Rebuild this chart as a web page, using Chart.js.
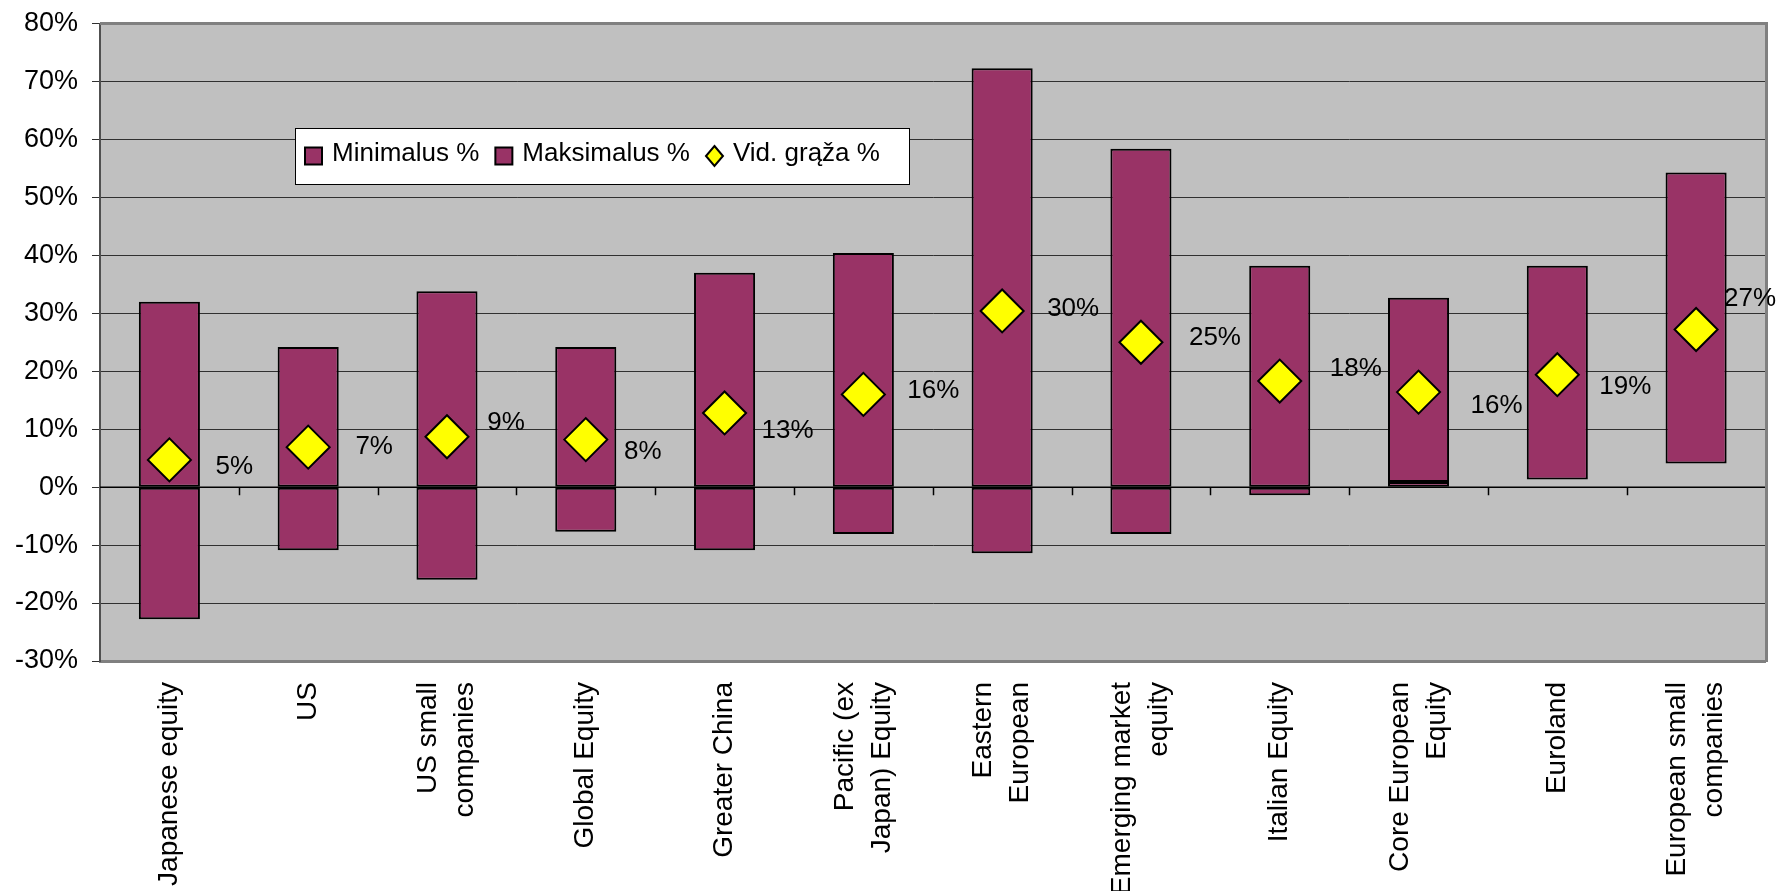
<!DOCTYPE html>
<html>
<head>
<meta charset="utf-8">
<script src="https://cdn.jsdelivr.net/npm/chart.js@4"></script>
<style>
  html, body { margin: 0; padding: 0; background: #fff; }
  #wrap { width: 1789px; height: 891px; }
</style>
</head>
<body>
<div id="wrap"><canvas id="myChart"></canvas></div>
<script>
const categorias = [
  ["Japanese equity"], ["US"], ["US small", "companies"], ["Global Equity"], ["Greater China"],
  ["Pacific (ex", "Japan) Equity"], ["Eastern", "European"], ["Emerging market", "equity"],
  ["Italian Equity"], ["Core European", "Equity"], ["Euroland"], ["European small", "companies"]
];

// stulpeliu dalys (%), [nuo, iki]
const minimalus = [[-22.8, 0], [-10.9, 0], [-16.0, 0], [-7.7, 0], [-10.9, 0], [-8.1, 0],
  [-11.4, 0], [-8.1, 0], [-1.4, 0], [0, 0.9], null, null];
const maksimalus = [[0, 32.0], [0, 24.2], [0, 33.8], [0, 24.2], [0, 37.0], [0, 40.4],
  [0, 72.3], [0, 58.4], [0, 38.2], [0.9, 32.7], [1.3, 38.2], [4.1, 54.3]];
const vidGraza = [4.7, 6.9, 8.7, 8.2, 12.8, 16.0, 30.4, 25.0, 18.3, 16.4, 19.4, 27.2];

const yMin = -30;
const yMax = 80;
const yStep = 10;

// etikeciu poslinkis nuo rombo (px)
const etiketeDx = [65, 66, 59, 57, 63, 70, 71, 74, 76, 78, 68, 54];
const etiketeDy = [7, 0, -14, 12, 18, -4, -2, -4, -12, 14, 12, -31];

const FONT = "'Liberation Sans', Arial, sans-serif";
const spalvaStulp = "#993366";

const fonas = {
  id: "fonas",
  beforeDraw(chart) {
    const { ctx, chartArea: a } = chart;
    ctx.save();
    ctx.fillStyle = "#C0C0C0";
    ctx.fillRect(a.left, a.top, a.right - a.left, a.bottom - a.top);
    ctx.restore();
  },
  beforeDatasetsDraw(chart) {
    const { ctx, chartArea: a, scales } = chart;
    const y0 = scales.y.getPixelForValue(0);
    const n = categorias.length;
    const w = (a.right - a.left) / n;
    ctx.save();
    ctx.strokeStyle = "#000";
    ctx.lineWidth = 1.5;
    ctx.beginPath();
    ctx.moveTo(a.left, y0);
    ctx.lineTo(a.right, y0);
    for (let k = 1; k < n; k++) {
      const x = Math.round(a.left + k * w) + 0.5;
      ctx.moveTo(x, y0);
      ctx.lineTo(x, y0 + 8);
    }
    ctx.stroke();
    ctx.restore();
  },
  afterDatasetsDraw(chart) {
    const { ctx, chartArea: a } = chart;
    // desinis ir virsutinis remelis
    ctx.save();
    ctx.strokeStyle = "#808080";
    ctx.lineWidth = 3;
    ctx.beginPath();
    ctx.moveTo(a.left, a.top);
    ctx.lineTo(a.right + 1, a.top);
    ctx.lineTo(a.right + 1, a.bottom + 1);
    ctx.stroke();

    // duomenu etiketes
    const meta = chart.getDatasetMeta(2);
    ctx.fillStyle = "#000";
    ctx.font = "26px " + FONT;
    ctx.textAlign = "center";
    ctx.textBaseline = "middle";
    meta.data.forEach((p, i) => {
      ctx.fillText(Math.round(vidGraza[i]) + "%", p.x + etiketeDx[i], p.y + etiketeDy[i]);
    });
    ctx.restore();
  },
  afterDraw(chart) {
    const { ctx, chartArea: a, scales } = chart;
    // kategoriju pavadinimai
    ctx.save();
    ctx.fillStyle = "#000";
    ctx.font = "28px " + FONT;
    ctx.textAlign = "right";
    ctx.textBaseline = "middle";
    const lh = 37;
    categorias.forEach((lines, i) => {
      const cx = scales.x.getPixelForValue(i);
      lines.forEach((t, j) => {
        const lx = cx + (j - (lines.length - 1) / 2) * lh;
        ctx.save();
        ctx.translate(lx, a.bottom + 21);
        ctx.rotate(-Math.PI / 2);
        ctx.fillText(t, 0, 0);
        ctx.restore();
      });
    });
    ctx.restore();

    // legenda
    const bx = 295, by = 128, bw = 614, bh = 56;
    ctx.save();
    ctx.fillStyle = "#fff";
    ctx.fillRect(bx, by, bw, bh);
    ctx.strokeStyle = "#000";
    ctx.lineWidth = 1;
    ctx.strokeRect(bx + 0.5, by + 0.5, bw, bh);
    ctx.font = "26px " + FONT;
    ctx.textBaseline = "middle";
    ctx.textAlign = "left";
    const cy = by + bh / 2;
    let x = bx + 10;
    chart.data.datasets.forEach((ds) => {
      ctx.lineWidth = 2;
      ctx.strokeStyle = "#000";
      if (ds.type === "line") {
        ctx.fillStyle = ds.backgroundColor;
        ctx.beginPath();
        ctx.moveTo(x + 8.5, cy - 10);
        ctx.lineTo(x + 17, cy);
        ctx.lineTo(x + 8.5, cy + 10);
        ctx.lineTo(x, cy);
        ctx.closePath();
        ctx.fill();
        ctx.stroke();
      } else {
        ctx.fillStyle = ds.backgroundColor;
        ctx.fillRect(x, cy - 8.5, 17, 17);
        ctx.strokeRect(x, cy - 8.5, 17, 17);
      }
      ctx.fillStyle = "#000";
      ctx.fillText(ds.label, x + 27, cy - 2);
      x += 27 + ctx.measureText(ds.label).width + 16;
    });
    ctx.restore();
  }
};

const config = {
  type: "bar",
  data: {
    labels: categorias.map((c) => c.join(" ")),
    datasets: [
      {
        label: "Minimalus %",
        data: minimalus,
        backgroundColor: spalvaStulp,
        borderColor: "#000",
        borderWidth: 2,
        borderSkipped: false,
        grouped: false,
        barPercentage: 0.44,
        categoryPercentage: 1,
        order: 2
      },
      {
        label: "Maksimalus %",
        data: maksimalus,
        backgroundColor: spalvaStulp,
        borderColor: "#000",
        borderWidth: 2,
        borderSkipped: false,
        grouped: false,
        barPercentage: 0.44,
        categoryPercentage: 1,
        order: 1
      },
      {
        type: "line",
        label: "Vid. grąža %",
        data: vidGraza,
        showLine: false,
        pointStyle: "rectRot",
        pointRadius: 21.5,
        pointBackgroundColor: "#FFFF00",
        backgroundColor: "#FFFF00",
        pointBorderColor: "#000",
        pointBorderWidth: 2,
        order: 0
      }
    ]
  },
  options: {
    responsive: false,
    animation: false,
    layout: { padding: { top: 23, right: 20, left: 0, bottom: 0 } },
    plugins: {
      legend: { display: false },
      tooltip: { enabled: false }
    },
    scales: {
      x: {
        offset: true,
        grid: { display: false, drawTicks: false },
        border: { color: "#808080", width: 3 },
        ticks: { display: false },
        afterFit: (s) => { s.height = 230; s.paddingLeft = 0; s.paddingRight = 0; }
      },
      y: {
        min: yMin,
        max: yMax,
        grid: { color: "#303030", lineWidth: 1, tickLength: 8, tickColor: "#303030" },
        border: { color: "#505050", width: 2 },
        ticks: {
          stepSize: yStep,
          padding: 14,
          color: "#000",
          font: { family: FONT, size: 27 },
          callback: (v) => v + "%"
        },
        afterFit: (s) => { s.width = 100; s.paddingTop = 0; s.paddingBottom = 0; }
      }
    }
  },
  plugins: [fonas]
};

const canvas = document.getElementById("myChart");
canvas.width = 1789;
canvas.height = 891;
new Chart(canvas, config);
</script>
</body>
</html>
